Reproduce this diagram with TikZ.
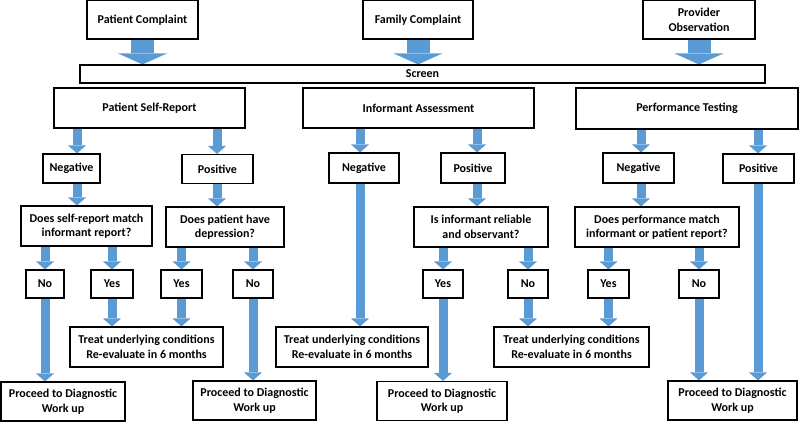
\documentclass[tikz,border=0pt]{standalone}
\usepackage{fontspec}
\setmainfont{Carlito}
\usetikzlibrary{arrows.meta,backgrounds}
\definecolor{arrowblue}{RGB}{91,155,213}
\begin{document}
\begin{tikzpicture}[x=1pt,y=-1pt,
  box/.style={draw=black, line width=1.1pt, fill=white, inner sep=0pt, align=center,
    font=\bfseries\fontsize{12}{14.5}\selectfont},
  thinarr/.style={draw=arrowblue, line width=9pt, -{Triangle[width=18pt,length=8pt,line width=0pt]}},
  fatarr/.style={draw=arrowblue, line width=23pt, -{Triangle[width=49pt,length=11pt,line width=0pt]}}]
\useasboundingbox (0,0) rectangle (800,422);
% lanes
\coordinate (L1) at (77,0);
\coordinate (L2) at (217,0);
\coordinate (L3) at (360,0);
\coordinate (L4) at (477,0);
\coordinate (L5) at (641,0);
\coordinate (L6) at (758,0);
% top
\node[box, minimum width=111pt, minimum height=38.5pt] (pc) at (142.5,19.75) {Patient Complaint};
\node[box, minimum width=110pt, minimum height=38.5pt] (fc) at (418,19.75) {Family Complaint};
\node[box, minimum width=112pt, minimum height=38.5pt] (po) at (699,19.75) {Provider\\Observation};
\node[box, minimum width=685pt, minimum height=18pt] (scr) at (422.5,74) {Screen};
% second level
\node[box, minimum width=191pt, minimum height=40pt] (psr) at (149.5,108) {Patient Self-Report};
\node[box, minimum width=231pt, minimum height=40pt] (ia) at (418.5,108) {Informant Assessment};
\node[box, minimum width=222pt, minimum height=41pt] (pt) at (687,108.5) {Performance Testing};
% results
\node[box, minimum width=57pt, minimum height=29pt] (neg1) at (71.5,168.5) {Negative};
\node[box, minimum width=71pt, minimum height=29pt] (pos1) at (217.5,169) {Positive};
\node[box, minimum width=70pt, minimum height=30pt] (neg2) at (364,168) {Negative};
\node[box, minimum width=64pt, minimum height=30pt] (pos2) at (473,168) {Positive};
\node[box, minimum width=71pt, minimum height=30pt] (neg3) at (638.5,168) {Negative};
\node[box, minimum width=71pt, minimum height=29pt] (pos3) at (758.5,168.5) {Positive};
% questions
\node[box, minimum width=131pt, minimum height=40pt] (q1) at (86.5,226) {Does self-report match\\informant report?};
\node[box, minimum width=118pt, minimum height=40pt] (q2) at (225,227) {Does patient have\\depression?};
\node[box, minimum width=134pt, minimum height=40pt] (q3) at (481,227) {Is informant reliable\\and observant?};
\node[box, minimum width=164pt, minimum height=40pt] (q4) at (657,227) {Does performance match\\informant or patient report?};
% yes/no
\node[box, minimum width=38pt, minimum height=28pt] (no1) at (45,284) {No};
\node[box, minimum width=42pt, minimum height=28pt] (yes1) at (112,284) {Yes};
\node[box, minimum width=41pt, minimum height=28pt] (yes2) at (181.5,284) {Yes};
\node[box, minimum width=40pt, minimum height=28pt] (no2) at (253,284) {No};
\node[box, minimum width=40pt, minimum height=28pt] (yes3) at (443,284) {Yes};
\node[box, minimum width=40pt, minimum height=28pt] (no3) at (528,284) {No};
\node[box, minimum width=41pt, minimum height=28pt] (yes4) at (608.5,284) {Yes};
\node[box, minimum width=40pt, minimum height=28pt] (no4) at (699,284) {No};
% treat
\node[box, minimum width=153pt, minimum height=40pt] (t1) at (146.5,347) {Treat underlying conditions\\Re-evaluate in 6 months};
\node[box, minimum width=152pt, minimum height=40pt] (t2) at (352,347) {Treat underlying conditions\\Re-evaluate in 6 months};
\node[box, minimum width=155pt, minimum height=40pt] (t3) at (571.5,347) {Treat underlying conditions\\Re-evaluate in 6 months};
% proceed
\node[box, minimum width=124pt, minimum height=39pt] (p1) at (63,401.5) {Proceed to Diagnostic\\Work up};
\node[box, minimum width=123pt, minimum height=39pt] (p2) at (254.5,400.5) {Proceed to Diagnostic\\Work up};
\node[box, minimum width=130pt, minimum height=39pt] (p3) at (442,401) {Proceed to Diagnostic\\Work up};
\node[box, minimum width=129pt, minimum height=39pt] (p4) at (732.5,400.5) {Proceed to Diagnostic\\Work up};
% arrows
\begin{scope}[on background layer]
\draw[fatarr] (pc.south) -- (pc.south |- scr.north);
\draw[fatarr] (fc.south) -- (fc.south |- scr.north);
\draw[fatarr] (po.south) -- (po.south |- scr.north);
\draw[thinarr] (psr.south -| L1) -- (neg1.north -| L1);
\draw[thinarr] (neg1.south -| L1) -- (q1.north -| L1);
\draw[thinarr] (psr.south -| L2) -- (pos1.north -| L2);
\draw[thinarr] (pos1.south -| L2) -- (q2.north -| L2);
\draw[thinarr] (ia.south -| L3) -- (neg2.north -| L3);
\draw[thinarr] (neg2.south -| L3) -- (t2.north -| L3);
\draw[thinarr] (ia.south -| L4) -- (pos2.north -| L4);
\draw[thinarr] (pos2.south -| L4) -- (q3.north -| L4);
\draw[thinarr] (pt.south -| L5) -- (neg3.north -| L5);
\draw[thinarr] (neg3.south -| L5) -- (q4.north -| L5);
\draw[thinarr] (pt.south -| L6) -- (pos3.north -| L6);
\draw[thinarr] (pos3.south -| L6) -- (p4.north -| L6);
\draw[thinarr] (q1.south -| no1) -- (no1.north);
\draw[thinarr] (q1.south -| yes1) -- (yes1.north);
\draw[thinarr] (no1.south) -- (p1.north -| no1);
\draw[thinarr] (yes1.south) -- (t1.north -| yes1);
\draw[thinarr] (q2.south -| yes2) -- (yes2.north);
\draw[thinarr] (q2.south -| no2) -- (no2.north);
\draw[thinarr] (yes2.south) -- (t1.north -| yes2);
\draw[thinarr] (no2.south) -- (p2.north -| no2);
\draw[thinarr] (q3.south -| yes3) -- (yes3.north);
\draw[thinarr] (q3.south -| no3) -- (no3.north);
\draw[thinarr] (yes3.south) -- (p3.north -| yes3);
\draw[thinarr] (no3.south) -- (t3.north -| no3);
\draw[thinarr] (q4.south -| yes4) -- (yes4.north);
\draw[thinarr] (q4.south -| no4) -- (no4.north);
\draw[thinarr] (yes4.south) -- (t3.north -| yes4);
\draw[thinarr] (no4.south) -- (p4.north -| no4);
\end{scope}
\end{tikzpicture}
\end{document}
